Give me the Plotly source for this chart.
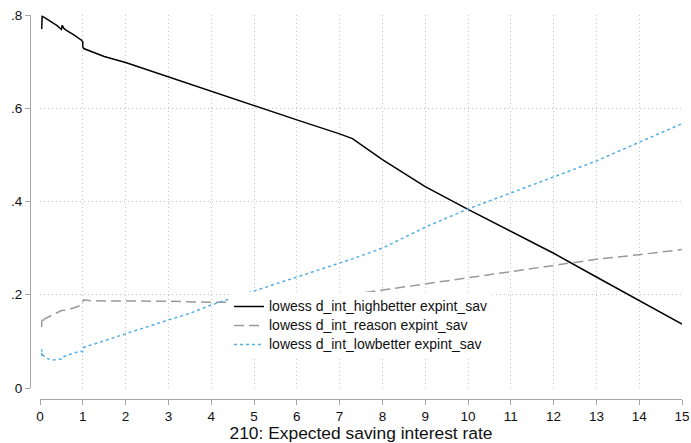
import plotly.graph_objects as go

# Expected saving interest rate (x) and lowess-smoothed shares
hi_x = [0.04, 0.04, 0.04, 0.05, 0.1, 0.2, 0.3, 0.4, 0.5, 0.52, 0.55, 0.6, 0.8, 0.97, 1.0, 1.0, 1.02,
        1.5, 2, 3, 4, 5, 6, 7, 7.3, 8, 9, 10, 11, 12, 13, 14, 15]
hi_y = [0.77, 0.79, 0.78, 0.797, 0.795, 0.789, 0.784, 0.777, 0.769, 0.778, 0.772, 0.768, 0.757, 0.746,
        0.742, 0.732, 0.728, 0.711, 0.698, 0.667, 0.636, 0.606, 0.575, 0.545, 0.535, 0.49, 0.432,
        0.383, 0.336, 0.289, 0.238, 0.187, 0.137]

re_x = [0.04, 0.04, 0.04, 0.06, 0.1, 0.25, 0.43, 0.5, 0.6, 0.8, 0.97, 1.0, 1.02, 1.2, 1.5, 2, 3, 4,
        4.5, 5, 6, 7, 8, 9, 10, 11, 12, 13, 14, 15]
re_y = [0.131, 0.147, 0.138, 0.14, 0.148, 0.155, 0.162, 0.166, 0.167, 0.172, 0.178, 0.184, 0.189,
        0.187, 0.187, 0.187, 0.186, 0.184, 0.183, 0.183, 0.188, 0.197, 0.21, 0.223, 0.236, 0.25,
        0.263, 0.276, 0.286, 0.297]

lo_x = [0.04, 0.04, 0.04, 0.06, 0.12, 0.27, 0.4, 0.5, 0.52, 0.78, 0.97, 1.0, 1.02, 1.35, 2, 3, 3.5,
        4, 5, 6, 7, 7.3, 8, 9, 10, 11, 12, 13, 14, 15]
lo_y = [0.069, 0.083, 0.075, 0.072, 0.065, 0.06, 0.061, 0.062, 0.066, 0.075, 0.079, 0.078, 0.087,
        0.097, 0.117, 0.146, 0.16, 0.178, 0.208, 0.238, 0.268, 0.277, 0.30, 0.345, 0.384, 0.418,
        0.452, 0.487, 0.527, 0.567]

x_ticks = list(range(0, 16))
y_ticks = [0, 0.2, 0.4, 0.6, 0.8]
y_tick_labels = ["0", ".2", ".4", ".6", ".8"]

names = ["lowess d_int_highbetter expint_sav",
         "lowess d_int_reason expint_sav",
         "lowess d_int_lowbetter expint_sav"]


def legend_label(s):
    return '<span style="font-size:14px">' + s + '</span>'


fig = go.Figure()
fig.add_trace(go.Scatter(x=hi_x, y=hi_y, mode="lines", name=legend_label(names[0]),
                         line=dict(color="#000000", width=1.5)))
fig.add_trace(go.Scatter(x=re_x, y=re_y, mode="lines", name=legend_label(names[1]),
                         line=dict(color="#9a9a9a", width=1.5, dash="10px,5px")))
fig.add_trace(go.Scatter(x=lo_x, y=lo_y, mode="lines", name=legend_label(names[2]),
                         line=dict(color="#55aee3", width=1.5, dash="3px,3px")))

W, H = 691, 443
ml, mr, mt, mb = 30, 9, 15, 44
pw = W - ml - mr
ph = H - mt - mb

FONT = "Liberation Sans, Arial, sans-serif"

axis_common = dict(
    showline=True, linecolor="#a8a8a8", linewidth=1.3,
    ticks="outside", ticklen=5, tickwidth=1.2, tickcolor="#a8a8a8",
    showgrid=True, gridcolor="#c4c4c4", griddash="1px,3px", gridwidth=1,
    zeroline=False, automargin=False,
    tickfont=dict(family=FONT, size=13.5, color="#111111"),
)

fig.update_layout(
    width=W, height=H,
    margin=dict(l=ml, r=mr, t=mt, b=mb, pad=0, autoexpand=False),
    paper_bgcolor="white", plot_bgcolor="white",
    font=dict(family=FONT, color="#111111"),
    xaxis=dict(
        domain=[10 / pw, 1], range=[0, 15], anchor="free", position=0,
        tickvals=x_ticks,
        title=dict(text="210: Expected saving interest rate",
                   font=dict(size=17.4, color="#111111"), standoff=6),
        **axis_common,
    ),
    yaxis=dict(
        domain=[11 / ph, 1], range=[0, 0.8], anchor="free", position=0,
        tickvals=y_ticks, ticktext=y_tick_labels,
        **axis_common,
    ),
    showlegend=True,
    legend=dict(
        x=(229 - ml) / pw, y=(399 - 292) / ph, xanchor="left", yanchor="top",
        bgcolor="white", borderwidth=0,
        font=dict(size=12, color="#111111"),
        tracegroupgap=0,
    ),
)

fig.write_html("out.html")
